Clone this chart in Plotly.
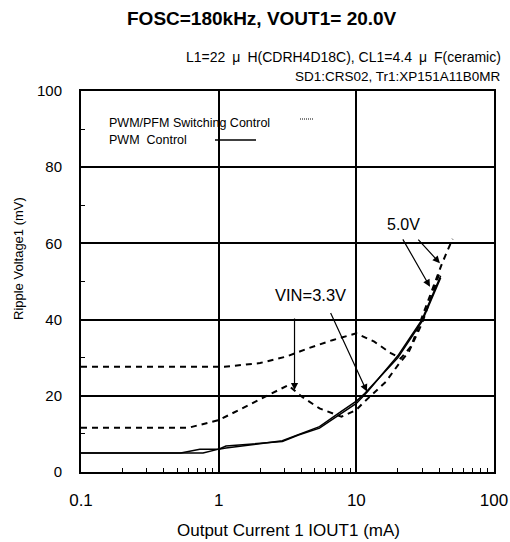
import plotly.graph_objects as go

# ---------------- data ----------------
# PWM/PFM switching control (dashed)
pfm_hi_x = [0.1, 0.5, 1.1, 2.0, 3.1, 4.5, 6.7, 10, 13.5, 17.8, 21, 25, 30, 35, 42, 50]
pfm_hi_y = [27.6, 27.6, 27.6, 28.6, 30.3, 32.5, 34.6, 36.4, 34.2, 31.2, 29.8, 33.0, 40.5, 47.0, 54.8, 61.2]

pfm_lo_x = [0.1, 0.6, 1.0, 2.2, 3.2, 4.0, 5.4, 7.8, 10, 11.1, 14, 16.4, 20, 24, 30, 35, 40]
pfm_lo_y = [11.6, 11.6, 13.6, 19.8, 22.8, 19.8, 16.7, 14.5, 16.3, 18.0, 21.5, 23.7, 28.0, 31.5, 39.0, 46.0, 52.0]

# PWM control (solid)
pwm_a_x = [0.1, 0.53, 0.73, 1.0, 1.13, 2.9, 3.8, 5.4, 7.5, 10, 12, 20, 30, 41]
pwm_a_y = [5.0, 5.0, 6.0, 6.0, 6.8, 8.0, 9.7, 11.5, 15.0, 18.0, 21.0, 30.5, 40.0, 51.5]

pwm_b_x = [0.1, 0.77, 1.0, 1.13, 2.9, 3.8, 5.4, 7.5, 10, 11.5, 20, 30, 41]
pwm_b_y = [5.0, 5.0, 6.0, 6.3, 8.2, 9.9, 11.9, 15.5, 18.6, 20.6, 30.0, 39.5, 51.0]

x_major = [0.1, 1, 10, 100]
x_major_text = ["0.1", "1", "10", "100"]
x_minor = [0.2, 0.3, 0.4, 0.5, 0.6, 0.7, 0.8, 0.9,
           2, 3, 4, 5, 6, 7, 8, 9,
           20, 30, 40, 50, 60, 70, 80, 90]
y_major = [0, 20, 40, 60, 80, 100]
y_minor = [10, 30, 50, 70, 90]

# ---------------- layout geometry ----------------
W, H = 510, 542
PL, PR, PT, PB = 81, 494, 91, 472          # plot area in page pixels
L, T, R, B = PL, PT, W - PR, H - PB


def px(x):
    return (x - PL) / (PR - PL)


def py(y):
    return (PB - y) / (PB - PT)


FONT = "Liberation Sans, Arial, sans-serif"
MU = "\u2002μ\u2002"

fig = go.Figure()

dash_style = dict(color="black", width=2, dash="6px,5px")
fig.add_trace(go.Scatter(x=pfm_hi_x, y=pfm_hi_y, mode="lines", line=dash_style, showlegend=False))
fig.add_trace(go.Scatter(x=pfm_lo_x, y=pfm_lo_y, mode="lines", line=dash_style, showlegend=False))
fig.add_trace(go.Scatter(x=pwm_a_x, y=pwm_a_y, mode="lines", line=dict(color="black", width=1.5), showlegend=False))
fig.add_trace(go.Scatter(x=pwm_b_x, y=pwm_b_y, mode="lines", line=dict(color="black", width=1.5), showlegend=False))

fig.update_xaxes(
    type="log", range=[-1, 2], automargin=False,
    tickmode="array", tickvals=x_major, ticktext=x_major_text, ticks="",
    showgrid=True, gridcolor="black", gridwidth=1.5,
    showline=True, linecolor="black", linewidth=2, mirror=True,
    zeroline=False,
    tickfont=dict(family=FONT, size=17, color="black"),
    ticklabelstandoff=12,
    minor=dict(tickmode="array", tickvals=x_minor, ticks="inside", ticklen=4,
               tickcolor="black", tickwidth=1, showgrid=False),
)
fig.update_yaxes(
    range=[0, 100], automargin=False,
    tickmode="array", tickvals=y_major, ticks="",
    showgrid=True, gridcolor="black", gridwidth=1.5,
    showline=True, linecolor="black", linewidth=2, mirror=True,
    zeroline=False,
    tickfont=dict(family=FONT, size=15, color="black"),
    ticklabelstandoff=14,
    minor=dict(tickmode="array", tickvals=y_minor, ticks="inside", ticklen=4,
               tickcolor="black", tickwidth=1, showgrid=False),
)

shapes = [
    # legend white box
    dict(type="rect", xref="paper", yref="paper", x0=px(100), x1=px(322), y0=py(153), y1=py(112),
         fillcolor="white", line=dict(width=0), layer="between"),
    # legend samples
    dict(type="line", xref="paper", yref="paper", x0=px(300), x1=px(314), y0=py(119), y1=py(119),
         line=dict(color="black", width=1, dash="1px,1px")),
    dict(type="line", xref="paper", yref="paper", x0=px(215), x1=px(256), y0=py(140), y1=py(140),
         line=dict(color="black", width=1.5)),
    # VIN label white box
    dict(type="rect", xref="paper", yref="paper", x0=px(250), x1=px(358), y0=py(312), y1=py(279),
         fillcolor="white", line=dict(width=0), layer="between"),
]

ann = []
ann.append(dict(text="<b>FOSC=180kHz, VOUT1= 20.0V</b>", xref="paper", yref="paper",
                x=px(262), y=py(18), showarrow=False, xanchor="center", yanchor="middle",
                font=dict(family=FONT, size=19, color="black")))
ann.append(dict(text="L1=22" + MU + "H(CDRH4D18C), CL1=4.4" + MU + "F(ceramic)", xref="paper", yref="paper",
                x=px(503), y=py(57), showarrow=False, xanchor="right", yanchor="middle",
                font=dict(family=FONT, size=14, color="black")))
ann.append(dict(text="SD1:CRS02, Tr1:XP151A11B0MR", xref="paper", yref="paper",
                x=px(503), y=py(77), showarrow=False, xanchor="right", yanchor="middle",
                font=dict(family=FONT, size=13.5, color="black")))
ann.append(dict(text="PWM/PFM Switching Control", xref="paper", yref="paper",
                x=px(107), y=py(123), showarrow=False, xanchor="left", yanchor="middle",
                font=dict(family=FONT, size=12.5, color="black")))
ann.append(dict(text="PWM  Control", xref="paper", yref="paper",
                x=px(107), y=py(140), showarrow=False, xanchor="left", yanchor="middle",
                font=dict(family=FONT, size=12.5, color="black")))
ann.append(dict(text="VIN=3.3V", xref="paper", yref="paper",
                x=px(310), y=py(295), showarrow=False, xanchor="center", yanchor="middle",
                font=dict(family=FONT, size=16.5, color="black")))
ann.append(dict(text="5.0V", xref="paper", yref="paper",
                x=px(403), y=py(224), showarrow=False, xanchor="center", yanchor="middle",
                font=dict(family=FONT, size=16, color="black")))
ann.append(dict(text="Ripple Voltage1 (mV)", xref="paper", yref="paper",
                x=px(18), y=py(258), showarrow=False, textangle=-90, xanchor="center", yanchor="middle",
                font=dict(family=FONT, size=13, color="black")))
ann.append(dict(text="Output Current 1 IOUT1 (mA)", xref="paper", yref="paper",
                x=px(288), y=py(530), showarrow=False, xanchor="center", yanchor="middle",
                font=dict(family=FONT, size=17, color="black")))

# arrows (head in data coords, tail offset in pixels)
arrow_style = dict(showarrow=True, arrowhead=2, arrowsize=1.2, arrowwidth=1.2, arrowcolor="black",
                   text="", xref="x", yref="y")
ann.append(dict(x=0.551, y=21.5, ax=0, ay=-73, **arrow_style))
ann.append(dict(x=1.077, y=21.1, ax=-37, ay=-80, **arrow_style))
ann.append(dict(x=1.535, y=48.6, ax=-28, ay=-49, **arrow_style))
ann.append(dict(x=1.607, y=54.8, ax=-23, ay=-25, **arrow_style))

fig.update_layout(
    width=W, height=H, autosize=False,
    margin=dict(l=L, r=R, t=T, b=B),
    paper_bgcolor="white", plot_bgcolor="white",
    shapes=shapes, annotations=ann,
    font=dict(family=FONT, color="black"),
)

post = "document.body.style.margin='0';document.body.style.overflow='hidden';"
fig.write_html("out.html", config={"responsive": False, "displayModeBar": False}, post_script=post)
